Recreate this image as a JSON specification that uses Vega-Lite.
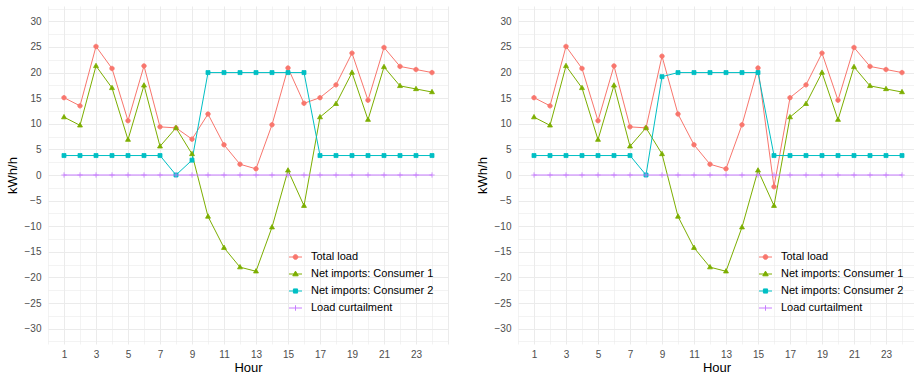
{
  "$schema": "https://vega.github.io/schema/vega-lite/v6.json",
  "padding": {"left": 6, "top": 3, "right": 0, "bottom": 0},
  "spacing": 28,
  "datasets": {
    "caseA": [
      {"hour":1,"series":"Total load","kwh":15.1},{"hour":2,"series":"Total load","kwh":13.5},{"hour":3,"series":"Total load","kwh":25.1},{"hour":4,"series":"Total load","kwh":20.8},{"hour":5,"series":"Total load","kwh":10.6},{"hour":6,"series":"Total load","kwh":21.3},{"hour":7,"series":"Total load","kwh":9.4},{"hour":8,"series":"Total load","kwh":9.2},{"hour":9,"series":"Total load","kwh":7.0},{"hour":10,"series":"Total load","kwh":11.9},{"hour":11,"series":"Total load","kwh":5.9},{"hour":12,"series":"Total load","kwh":2.1},{"hour":13,"series":"Total load","kwh":1.2},{"hour":14,"series":"Total load","kwh":9.8},{"hour":15,"series":"Total load","kwh":20.9},{"hour":16,"series":"Total load","kwh":14.0},{"hour":17,"series":"Total load","kwh":15.1},{"hour":18,"series":"Total load","kwh":17.6},{"hour":19,"series":"Total load","kwh":23.8},{"hour":20,"series":"Total load","kwh":14.6},{"hour":21,"series":"Total load","kwh":24.9},{"hour":22,"series":"Total load","kwh":21.2},{"hour":23,"series":"Total load","kwh":20.6},{"hour":24,"series":"Total load","kwh":20.0},
      {"hour":1,"series":"Net imports: Consumer 1","kwh":11.3},{"hour":2,"series":"Net imports: Consumer 1","kwh":9.7},{"hour":3,"series":"Net imports: Consumer 1","kwh":21.3},{"hour":4,"series":"Net imports: Consumer 1","kwh":17.0},{"hour":5,"series":"Net imports: Consumer 1","kwh":6.9},{"hour":6,"series":"Net imports: Consumer 1","kwh":17.5},{"hour":7,"series":"Net imports: Consumer 1","kwh":5.6},{"hour":8,"series":"Net imports: Consumer 1","kwh":9.2},{"hour":9,"series":"Net imports: Consumer 1","kwh":4.1},{"hour":10,"series":"Net imports: Consumer 1","kwh":-8.1},{"hour":11,"series":"Net imports: Consumer 1","kwh":-14.2},{"hour":12,"series":"Net imports: Consumer 1","kwh":-18.0},{"hour":13,"series":"Net imports: Consumer 1","kwh":-18.8},{"hour":14,"series":"Net imports: Consumer 1","kwh":-10.2},{"hour":15,"series":"Net imports: Consumer 1","kwh":0.9},{"hour":16,"series":"Net imports: Consumer 1","kwh":-6.0},{"hour":17,"series":"Net imports: Consumer 1","kwh":11.3},{"hour":18,"series":"Net imports: Consumer 1","kwh":13.9},{"hour":19,"series":"Net imports: Consumer 1","kwh":20.0},{"hour":20,"series":"Net imports: Consumer 1","kwh":10.8},{"hour":21,"series":"Net imports: Consumer 1","kwh":21.1},{"hour":22,"series":"Net imports: Consumer 1","kwh":17.4},{"hour":23,"series":"Net imports: Consumer 1","kwh":16.8},{"hour":24,"series":"Net imports: Consumer 1","kwh":16.2},
      {"hour":1,"series":"Net imports: Consumer 2","kwh":3.8},{"hour":2,"series":"Net imports: Consumer 2","kwh":3.8},{"hour":3,"series":"Net imports: Consumer 2","kwh":3.8},{"hour":4,"series":"Net imports: Consumer 2","kwh":3.8},{"hour":5,"series":"Net imports: Consumer 2","kwh":3.8},{"hour":6,"series":"Net imports: Consumer 2","kwh":3.8},{"hour":7,"series":"Net imports: Consumer 2","kwh":3.8},{"hour":8,"series":"Net imports: Consumer 2","kwh":0},{"hour":9,"series":"Net imports: Consumer 2","kwh":2.9},{"hour":10,"series":"Net imports: Consumer 2","kwh":20},{"hour":11,"series":"Net imports: Consumer 2","kwh":20},{"hour":12,"series":"Net imports: Consumer 2","kwh":20},{"hour":13,"series":"Net imports: Consumer 2","kwh":20},{"hour":14,"series":"Net imports: Consumer 2","kwh":20},{"hour":15,"series":"Net imports: Consumer 2","kwh":20},{"hour":16,"series":"Net imports: Consumer 2","kwh":20},{"hour":17,"series":"Net imports: Consumer 2","kwh":3.8},{"hour":18,"series":"Net imports: Consumer 2","kwh":3.8},{"hour":19,"series":"Net imports: Consumer 2","kwh":3.8},{"hour":20,"series":"Net imports: Consumer 2","kwh":3.8},{"hour":21,"series":"Net imports: Consumer 2","kwh":3.8},{"hour":22,"series":"Net imports: Consumer 2","kwh":3.8},{"hour":23,"series":"Net imports: Consumer 2","kwh":3.8},{"hour":24,"series":"Net imports: Consumer 2","kwh":3.8},
      {"hour":1,"series":"Load curtailment","kwh":0},{"hour":2,"series":"Load curtailment","kwh":0},{"hour":3,"series":"Load curtailment","kwh":0},{"hour":4,"series":"Load curtailment","kwh":0},{"hour":5,"series":"Load curtailment","kwh":0},{"hour":6,"series":"Load curtailment","kwh":0},{"hour":7,"series":"Load curtailment","kwh":0},{"hour":8,"series":"Load curtailment","kwh":0},{"hour":9,"series":"Load curtailment","kwh":0},{"hour":10,"series":"Load curtailment","kwh":0},{"hour":11,"series":"Load curtailment","kwh":0},{"hour":12,"series":"Load curtailment","kwh":0},{"hour":13,"series":"Load curtailment","kwh":0},{"hour":14,"series":"Load curtailment","kwh":0},{"hour":15,"series":"Load curtailment","kwh":0},{"hour":16,"series":"Load curtailment","kwh":0},{"hour":17,"series":"Load curtailment","kwh":0},{"hour":18,"series":"Load curtailment","kwh":0},{"hour":19,"series":"Load curtailment","kwh":0},{"hour":20,"series":"Load curtailment","kwh":0},{"hour":21,"series":"Load curtailment","kwh":0},{"hour":22,"series":"Load curtailment","kwh":0},{"hour":23,"series":"Load curtailment","kwh":0},{"hour":24,"series":"Load curtailment","kwh":0}
    ],
    "caseB": [
      {"hour":1,"series":"Total load","kwh":15.1},{"hour":2,"series":"Total load","kwh":13.5},{"hour":3,"series":"Total load","kwh":25.1},{"hour":4,"series":"Total load","kwh":20.8},{"hour":5,"series":"Total load","kwh":10.6},{"hour":6,"series":"Total load","kwh":21.3},{"hour":7,"series":"Total load","kwh":9.4},{"hour":8,"series":"Total load","kwh":9.2},{"hour":9,"series":"Total load","kwh":23.2},{"hour":10,"series":"Total load","kwh":11.9},{"hour":11,"series":"Total load","kwh":5.9},{"hour":12,"series":"Total load","kwh":2.1},{"hour":13,"series":"Total load","kwh":1.2},{"hour":14,"series":"Total load","kwh":9.8},{"hour":15,"series":"Total load","kwh":20.9},{"hour":16,"series":"Total load","kwh":-2.3},{"hour":17,"series":"Total load","kwh":15.1},{"hour":18,"series":"Total load","kwh":17.6},{"hour":19,"series":"Total load","kwh":23.8},{"hour":20,"series":"Total load","kwh":14.6},{"hour":21,"series":"Total load","kwh":24.9},{"hour":22,"series":"Total load","kwh":21.2},{"hour":23,"series":"Total load","kwh":20.6},{"hour":24,"series":"Total load","kwh":20.0},
      {"hour":1,"series":"Net imports: Consumer 1","kwh":11.3},{"hour":2,"series":"Net imports: Consumer 1","kwh":9.7},{"hour":3,"series":"Net imports: Consumer 1","kwh":21.3},{"hour":4,"series":"Net imports: Consumer 1","kwh":17.0},{"hour":5,"series":"Net imports: Consumer 1","kwh":6.9},{"hour":6,"series":"Net imports: Consumer 1","kwh":17.5},{"hour":7,"series":"Net imports: Consumer 1","kwh":5.6},{"hour":8,"series":"Net imports: Consumer 1","kwh":9.2},{"hour":9,"series":"Net imports: Consumer 1","kwh":4.1},{"hour":10,"series":"Net imports: Consumer 1","kwh":-8.1},{"hour":11,"series":"Net imports: Consumer 1","kwh":-14.2},{"hour":12,"series":"Net imports: Consumer 1","kwh":-18.0},{"hour":13,"series":"Net imports: Consumer 1","kwh":-18.8},{"hour":14,"series":"Net imports: Consumer 1","kwh":-10.2},{"hour":15,"series":"Net imports: Consumer 1","kwh":0.9},{"hour":16,"series":"Net imports: Consumer 1","kwh":-6.0},{"hour":17,"series":"Net imports: Consumer 1","kwh":11.3},{"hour":18,"series":"Net imports: Consumer 1","kwh":13.9},{"hour":19,"series":"Net imports: Consumer 1","kwh":20.0},{"hour":20,"series":"Net imports: Consumer 1","kwh":10.8},{"hour":21,"series":"Net imports: Consumer 1","kwh":21.1},{"hour":22,"series":"Net imports: Consumer 1","kwh":17.4},{"hour":23,"series":"Net imports: Consumer 1","kwh":16.8},{"hour":24,"series":"Net imports: Consumer 1","kwh":16.2},
      {"hour":1,"series":"Net imports: Consumer 2","kwh":3.8},{"hour":2,"series":"Net imports: Consumer 2","kwh":3.8},{"hour":3,"series":"Net imports: Consumer 2","kwh":3.8},{"hour":4,"series":"Net imports: Consumer 2","kwh":3.8},{"hour":5,"series":"Net imports: Consumer 2","kwh":3.8},{"hour":6,"series":"Net imports: Consumer 2","kwh":3.8},{"hour":7,"series":"Net imports: Consumer 2","kwh":3.8},{"hour":8,"series":"Net imports: Consumer 2","kwh":0},{"hour":9,"series":"Net imports: Consumer 2","kwh":19.2},{"hour":10,"series":"Net imports: Consumer 2","kwh":20},{"hour":11,"series":"Net imports: Consumer 2","kwh":20},{"hour":12,"series":"Net imports: Consumer 2","kwh":20},{"hour":13,"series":"Net imports: Consumer 2","kwh":20},{"hour":14,"series":"Net imports: Consumer 2","kwh":20},{"hour":15,"series":"Net imports: Consumer 2","kwh":20},{"hour":16,"series":"Net imports: Consumer 2","kwh":3.8},{"hour":17,"series":"Net imports: Consumer 2","kwh":3.8},{"hour":18,"series":"Net imports: Consumer 2","kwh":3.8},{"hour":19,"series":"Net imports: Consumer 2","kwh":3.8},{"hour":20,"series":"Net imports: Consumer 2","kwh":3.8},{"hour":21,"series":"Net imports: Consumer 2","kwh":3.8},{"hour":22,"series":"Net imports: Consumer 2","kwh":3.8},{"hour":23,"series":"Net imports: Consumer 2","kwh":3.8},{"hour":24,"series":"Net imports: Consumer 2","kwh":3.8},
      {"hour":1,"series":"Load curtailment","kwh":0},{"hour":2,"series":"Load curtailment","kwh":0},{"hour":3,"series":"Load curtailment","kwh":0},{"hour":4,"series":"Load curtailment","kwh":0},{"hour":5,"series":"Load curtailment","kwh":0},{"hour":6,"series":"Load curtailment","kwh":0},{"hour":7,"series":"Load curtailment","kwh":0},{"hour":8,"series":"Load curtailment","kwh":0},{"hour":9,"series":"Load curtailment","kwh":0},{"hour":10,"series":"Load curtailment","kwh":0},{"hour":11,"series":"Load curtailment","kwh":0},{"hour":12,"series":"Load curtailment","kwh":0},{"hour":13,"series":"Load curtailment","kwh":0},{"hour":14,"series":"Load curtailment","kwh":0},{"hour":15,"series":"Load curtailment","kwh":0},{"hour":16,"series":"Load curtailment","kwh":0},{"hour":17,"series":"Load curtailment","kwh":0},{"hour":18,"series":"Load curtailment","kwh":0},{"hour":19,"series":"Load curtailment","kwh":0},{"hour":20,"series":"Load curtailment","kwh":0},{"hour":21,"series":"Load curtailment","kwh":0},{"hour":22,"series":"Load curtailment","kwh":0},{"hour":23,"series":"Load curtailment","kwh":0},{"hour":24,"series":"Load curtailment","kwh":0}
    ]
  },
  "hconcat": [
    {
      "width": 400,
      "height": 338,
      "data": {"name": "caseA"},
      "encoding": {
        "x": {"field": "hour", "type": "quantitative", "title": "Hour",
          "scale": {"domain": [0, 25], "nice": false, "zero": false},
          "axis": {"values": [0,1,2,3,4,5,6,7,8,9,10,11,12,13,14,15,16,17,18,19,20,21,22,23,24,25],
            "labelExpr": "datum.value % 2 === 1 && datum.value < 24 ? datum.label : ''",
            "gridWidth": {"condition": {"test": "datum.value % 2 === 1", "value": 1}, "value": 0.6}}},
        "y": {"field": "kwh", "type": "quantitative", "title": "kWh/h",
          "scale": {"domain": [-33, 33], "nice": false, "zero": false},
          "axis": {"values": [-32.5,-30,-27.5,-25,-22.5,-20,-17.5,-15,-12.5,-10,-7.5,-5,-2.5,0,2.5,5,7.5,10,12.5,15,17.5,20,22.5,25,27.5,30,32.5],
            "labelExpr": "datum.value % 5 === 0 ? datum.label : ''",
            "gridWidth": {"condition": {"test": "datum.value % 5 === 0", "value": 1}, "value": 0.6}}}
      },
      "layer": [
        {"mark": {"type": "line", "strokeWidth": 1},
          "encoding": {
            "color": {"field": "series", "type": "nominal", "legend": null,
              "scale": {"domain": ["Total load", "Net imports: Consumer 1", "Net imports: Consumer 2", "Load curtailment"], "range": ["#F8766D", "#7CAE00", "#00BFC4", "#C77CFF"]}}
          }},
        {"mark": {"type": "point", "filled": true, "opacity": 1, "size": 20, "strokeWidth": 0.8},
          "encoding": {
            "color": {"field": "series", "type": "nominal", "legend": null,
              "scale": {"domain": ["Total load", "Net imports: Consumer 1", "Net imports: Consumer 2", "Load curtailment"], "range": ["#F8766D", "#7CAE00", "#00BFC4", "#C77CFF"]}},
            "stroke": {"field": "series", "type": "nominal", "legend": null,
              "scale": {"domain": ["Total load", "Net imports: Consumer 1", "Net imports: Consumer 2", "Load curtailment"], "range": ["#F8766D", "#7CAE00", "#00BFC4", "#C77CFF"]}},
            "shape": {"field": "series", "type": "nominal", "legend": null,
              "scale": {"domain": ["Total load", "Net imports: Consumer 1", "Net imports: Consumer 2", "Load curtailment"],
                "range": ["M1,0A1,1,0,1,1,-1,0A1,1,0,1,1,1,0Z", "M0,-1.2L1.1,0.75L-1.1,0.75Z", "M-0.9,-0.9H0.9V0.9H-0.9Z", "M-1.2,0H1.2M0,-1.2V1.2"]}}
          }},
        {"transform": [{"filter": "datum.hour < 0"}],
          "mark": {"type": "point", "filled": true, "opacity": 1},
          "encoding": {
            "color": {"field": "series", "type": "nominal",
              "scale": {"domain": ["Total load", "Net imports: Consumer 1", "Net imports: Consumer 2", "Load curtailment"], "range": ["#F8766D", "#7CAE00", "#00BFC4", "#C77CFF"]},
              "legend": {"title": null, "orient": "none", "legendX": 240.5, "legendY": 244}},
            "stroke": {"field": "series", "type": "nominal",
              "scale": {"domain": ["Total load", "Net imports: Consumer 1", "Net imports: Consumer 2", "Load curtailment"], "range": ["#F8766D", "#7CAE00", "#00BFC4", "#C77CFF"]},
              "legend": {"title": null, "orient": "none", "legendX": 240.5, "legendY": 244}},
            "shape": {"field": "series", "type": "nominal",
              "scale": {"domain": ["Total load", "Net imports: Consumer 1", "Net imports: Consumer 2", "Load curtailment"],
                "range": ["M-1,0H1M0.36,0A0.36,0.36,0,1,1,-0.36,0A0.36,0.36,0,1,1,0.36,0Z", "M-1,0H1M0,-0.44L0.42,0.28L-0.42,0.28Z", "M-1,0H1M-0.32,-0.32H0.32V0.32H-0.32Z", "M-1,0H1M0,-0.42V0.42"]},
              "legend": {"title": null, "orient": "none", "legendX": 240.5, "legendY": 244}}
          }}
      ],
      "resolve": {
        "scale": {"color": "independent", "stroke": "independent", "shape": "independent"},
        "legend": {"color": "independent", "stroke": "independent", "shape": "independent"}
      }
    },
    {
      "width": 397,
      "height": 338,
      "data": {"name": "caseB"},
      "encoding": {
        "x": {"field": "hour", "type": "quantitative", "title": "Hour",
          "scale": {"domain": [0, 24.8125], "nice": false, "zero": false},
          "axis": {"values": [0,1,2,3,4,5,6,7,8,9,10,11,12,13,14,15,16,17,18,19,20,21,22,23,24],
            "labelExpr": "datum.value % 2 === 1 && datum.value < 24 ? datum.label : ''",
            "gridWidth": {"condition": {"test": "datum.value % 2 === 1", "value": 1}, "value": 0.6}}},
        "y": {"field": "kwh", "type": "quantitative", "title": "kWh/h",
          "scale": {"domain": [-33, 33], "nice": false, "zero": false},
          "axis": {"values": [-32.5,-30,-27.5,-25,-22.5,-20,-17.5,-15,-12.5,-10,-7.5,-5,-2.5,0,2.5,5,7.5,10,12.5,15,17.5,20,22.5,25,27.5,30,32.5],
            "labelExpr": "datum.value % 5 === 0 ? datum.label : ''",
            "gridWidth": {"condition": {"test": "datum.value % 5 === 0", "value": 1}, "value": 0.6}}}
      },
      "layer": [
        {"mark": {"type": "line", "strokeWidth": 1},
          "encoding": {
            "color": {"field": "series", "type": "nominal", "legend": null,
              "scale": {"domain": ["Total load", "Net imports: Consumer 1", "Net imports: Consumer 2", "Load curtailment"], "range": ["#F8766D", "#7CAE00", "#00BFC4", "#C77CFF"]}}
          }},
        {"mark": {"type": "point", "filled": true, "opacity": 1, "size": 20, "strokeWidth": 0.8},
          "encoding": {
            "color": {"field": "series", "type": "nominal", "legend": null,
              "scale": {"domain": ["Total load", "Net imports: Consumer 1", "Net imports: Consumer 2", "Load curtailment"], "range": ["#F8766D", "#7CAE00", "#00BFC4", "#C77CFF"]}},
            "stroke": {"field": "series", "type": "nominal", "legend": null,
              "scale": {"domain": ["Total load", "Net imports: Consumer 1", "Net imports: Consumer 2", "Load curtailment"], "range": ["#F8766D", "#7CAE00", "#00BFC4", "#C77CFF"]}},
            "shape": {"field": "series", "type": "nominal", "legend": null,
              "scale": {"domain": ["Total load", "Net imports: Consumer 1", "Net imports: Consumer 2", "Load curtailment"],
                "range": ["M1,0A1,1,0,1,1,-1,0A1,1,0,1,1,1,0Z", "M0,-1.2L1.1,0.75L-1.1,0.75Z", "M-0.9,-0.9H0.9V0.9H-0.9Z", "M-1.2,0H1.2M0,-1.2V1.2"]}}
          }},
        {"transform": [{"filter": "datum.hour < 0"}],
          "mark": {"type": "point", "filled": true, "opacity": 1},
          "encoding": {
            "color": {"field": "series", "type": "nominal",
              "scale": {"domain": ["Total load", "Net imports: Consumer 1", "Net imports: Consumer 2", "Load curtailment"], "range": ["#F8766D", "#7CAE00", "#00BFC4", "#C77CFF"]},
              "legend": {"title": null, "orient": "none", "legendX": 240.5, "legendY": 244}},
            "stroke": {"field": "series", "type": "nominal",
              "scale": {"domain": ["Total load", "Net imports: Consumer 1", "Net imports: Consumer 2", "Load curtailment"], "range": ["#F8766D", "#7CAE00", "#00BFC4", "#C77CFF"]},
              "legend": {"title": null, "orient": "none", "legendX": 240.5, "legendY": 244}},
            "shape": {"field": "series", "type": "nominal",
              "scale": {"domain": ["Total load", "Net imports: Consumer 1", "Net imports: Consumer 2", "Load curtailment"],
                "range": ["M-1,0H1M0.36,0A0.36,0.36,0,1,1,-0.36,0A0.36,0.36,0,1,1,0.36,0Z", "M-1,0H1M0,-0.44L0.42,0.28L-0.42,0.28Z", "M-1,0H1M-0.32,-0.32H0.32V0.32H-0.32Z", "M-1,0H1M0,-0.42V0.42"]},
              "legend": {"title": null, "orient": "none", "legendX": 240.5, "legendY": 244}}
          }}
      ],
      "resolve": {
        "scale": {"color": "independent", "stroke": "independent", "shape": "independent"},
        "legend": {"color": "independent", "stroke": "independent", "shape": "independent"}
      }
    }
  ],
  "resolve": {
    "scale": {"x": "independent", "y": "independent", "color": "independent", "shape": "independent", "stroke": "independent"},
    "legend": {"color": "independent", "shape": "independent", "stroke": "independent"}
  },
  "config": {
    "view": {"stroke": null},
    "font": "Liberation Sans",
    "axis": {
      "domain": false, "ticks": false,
      "labelFont": "Liberation Sans", "labelFontSize": 10, "labelColor": "#4D4D4D", "labelPadding": 7,
      "labelFlush": false, "labelOverlap": false, "labelBound": false,
      "titleFont": "Liberation Sans", "titleFontSize": 13, "titleColor": "#000000", "titleFontWeight": "normal",
      "gridColor": "#EBEBEB"
    },
    "axisX": {"labelPadding": 5, "minExtent": 15, "maxExtent": 15, "titlePadding": 2},
    "axisY": {"minExtent": 24, "maxExtent": 24, "titlePadding": 5},
    "legend": {
      "padding": 0, "symbolSize": 169, "labelOffset": 8.5, "rowPadding": 5,
      "labelFont": "Liberation Sans", "labelFontSize": 11, "labelColor": "#000000", "labelLimit": 300,
      "symbolStrokeWidth": 1, "symbolOpacity": 1
    }
  }
}
